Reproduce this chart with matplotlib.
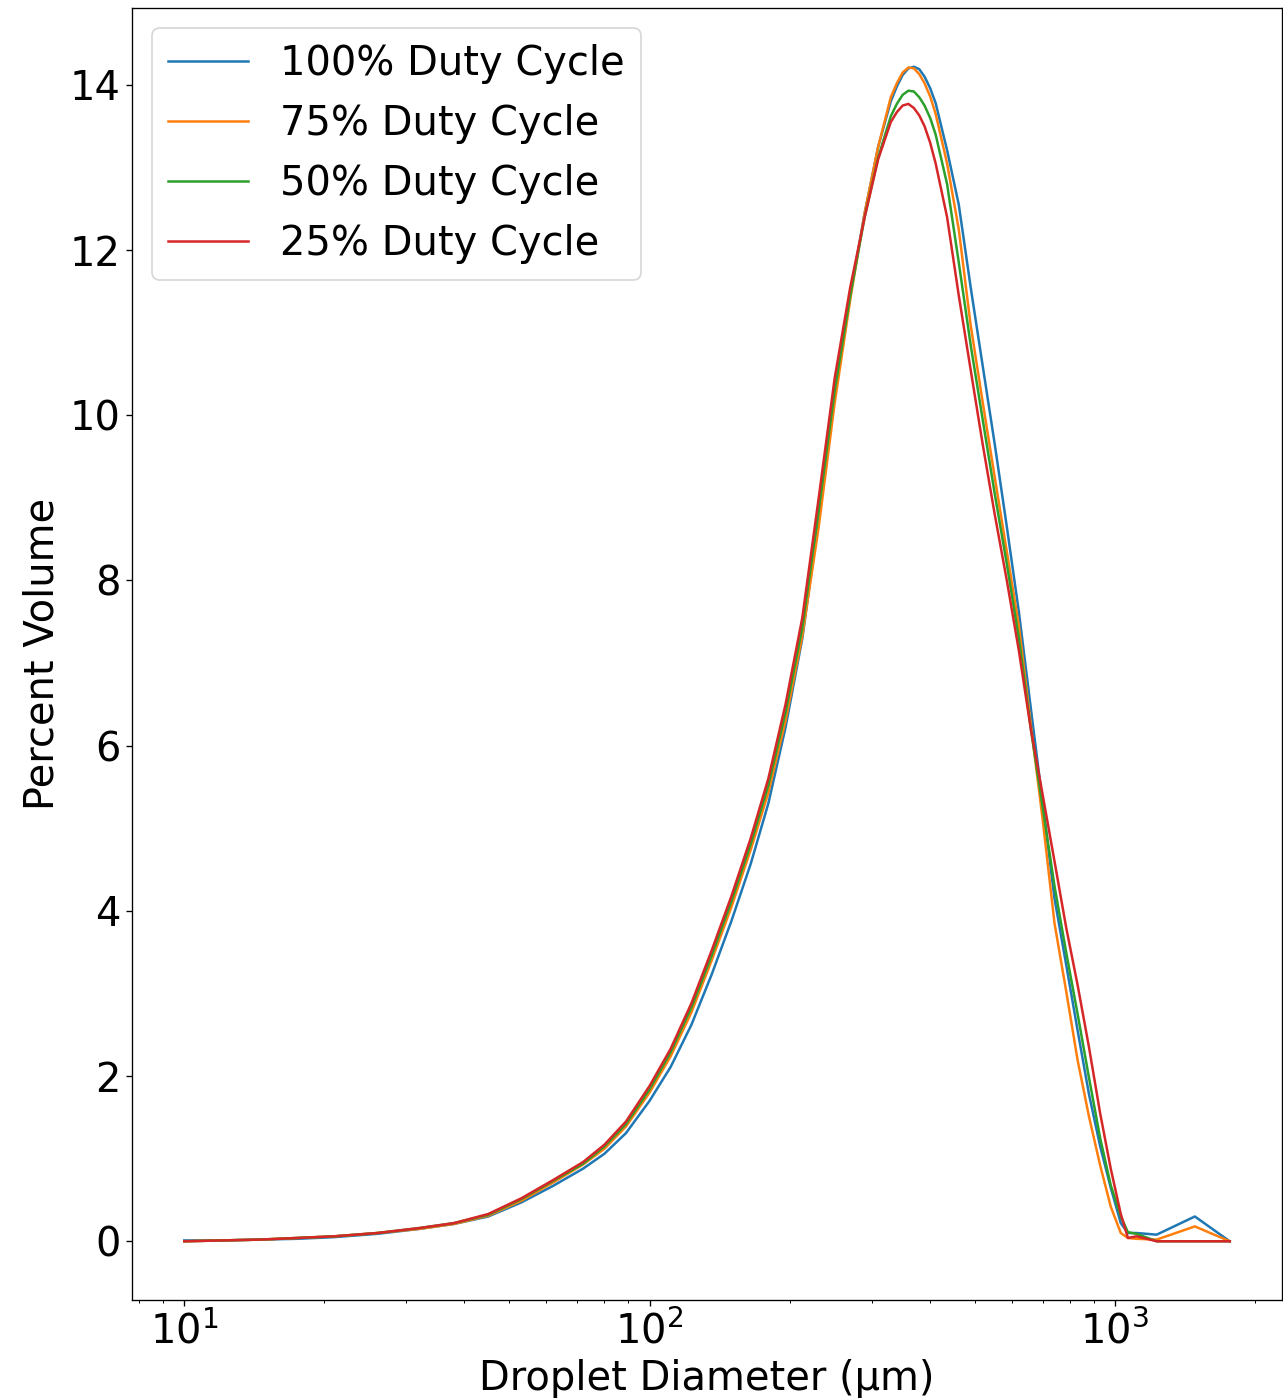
import matplotlib
matplotlib.use("Agg")
import matplotlib.pyplot as plt

# droplet size bins (um) and percent volume per duty cycle
diameter = [10, 12, 14.5, 17.5, 21, 26, 32, 38, 45, 53, 62, 72, 80, 89, 100, 111,
            123, 136, 150, 165, 180, 196, 213, 231, 250, 270, 290, 310, 330, 340,
            350, 360, 370, 380, 390, 401, 412, 436, 462, 490, 520, 552, 586, 622,
            660, 700, 742, 786, 832, 880, 930, 980, 1030, 1067, 1114, 1230, 1486,
            1766]

duty_100 = [0.01, 0.01, 0.02, 0.03, 0.05, 0.09, 0.15, 0.21, 0.30, 0.47, 0.67, 0.88,
            1.06, 1.31, 1.70, 2.11, 2.62, 3.23, 3.88, 4.57, 5.30, 6.22, 7.30, 8.75,
            10.25, 11.45, 12.45, 13.25, 13.80, 13.98, 14.12, 14.20, 14.22, 14.19,
            14.10, 13.96, 13.78, 13.21, 12.55, 11.55, 10.60, 9.65, 8.65, 7.62, 6.45,
            5.30, 4.15, 3.35, 2.55, 1.78, 1.15, 0.65, 0.22, 0.10, 0.10, 0.08, 0.30,
            0.00]

duty_75 = [0.00, 0.01, 0.02, 0.04, 0.06, 0.10, 0.15, 0.21, 0.31, 0.49, 0.71, 0.93,
           1.12, 1.39, 1.80, 2.24, 2.77, 3.40, 4.05, 4.74, 5.43, 6.30, 7.33, 8.65,
           10.15, 11.40, 12.45, 13.25, 13.85, 14.02, 14.15, 14.21, 14.20, 14.13,
           14.02, 13.86, 13.65, 13.05, 12.25, 11.09, 10.16, 9.25, 8.35, 7.45, 6.25,
           5.10, 3.85, 3.03, 2.19, 1.51, 0.92, 0.42, 0.10, 0.04, 0.03, 0.02, 0.18,
           0.00]

duty_50 = [0.00, 0.01, 0.02, 0.04, 0.06, 0.10, 0.16, 0.22, 0.32, 0.51, 0.73, 0.94,
           1.15, 1.42, 1.84, 2.29, 2.83, 3.46, 4.12, 4.81, 5.52, 6.40, 7.43, 8.85,
           10.30, 11.45, 12.40, 13.12, 13.62, 13.77, 13.88, 13.93, 13.92, 13.85,
           13.75, 13.60, 13.40, 12.80, 11.85, 10.85, 9.95, 9.05, 8.20, 7.30, 6.20,
           5.25, 4.30, 3.50, 2.75, 1.98, 1.25, 0.68, 0.30, 0.11, 0.09, 0.00, 0.00,
           0.00]

duty_25 = [0.00, 0.01, 0.02, 0.04, 0.06, 0.10, 0.16, 0.22, 0.33, 0.52, 0.74, 0.96,
           1.17, 1.45, 1.88, 2.33, 2.88, 3.52, 4.18, 4.88, 5.60, 6.50, 7.55, 9.00,
           10.45, 11.55, 12.40, 13.10, 13.55, 13.67, 13.75, 13.77, 13.72, 13.63,
           13.50, 13.30, 13.05, 12.40, 11.45, 10.55, 9.65, 8.80, 8.00, 7.15, 6.20,
           5.40, 4.60, 3.80, 3.10, 2.35, 1.55, 0.88, 0.33, 0.04, 0.06, 0.00, 0.00,
           0.00]

series = [("100% Duty Cycle", duty_100),
          ("75% Duty Cycle", duty_75),
          ("50% Duty Cycle", duty_50),
          ("25% Duty Cycle", duty_25)]

plt.rcParams["font.size"] = 24

W, H, DPI = 1283, 1398, 120
fig = plt.figure(figsize=(W / DPI, H / DPI), dpi=DPI)
ax = fig.add_axes([132 / W, 1 - 1300 / H, (1282 - 132) / W, (1300 - 8) / H])

for label, vals in series:
    ax.plot(diameter, vals, lw=1.5, label=label)

ax.set_xscale("log")
ax.set_xlabel("Droplet Diameter (\u00b5m)")
ax.set_ylabel("Percent Volume")
ax.legend(loc="upper left")

fig.savefig("out.png", dpi=DPI)
